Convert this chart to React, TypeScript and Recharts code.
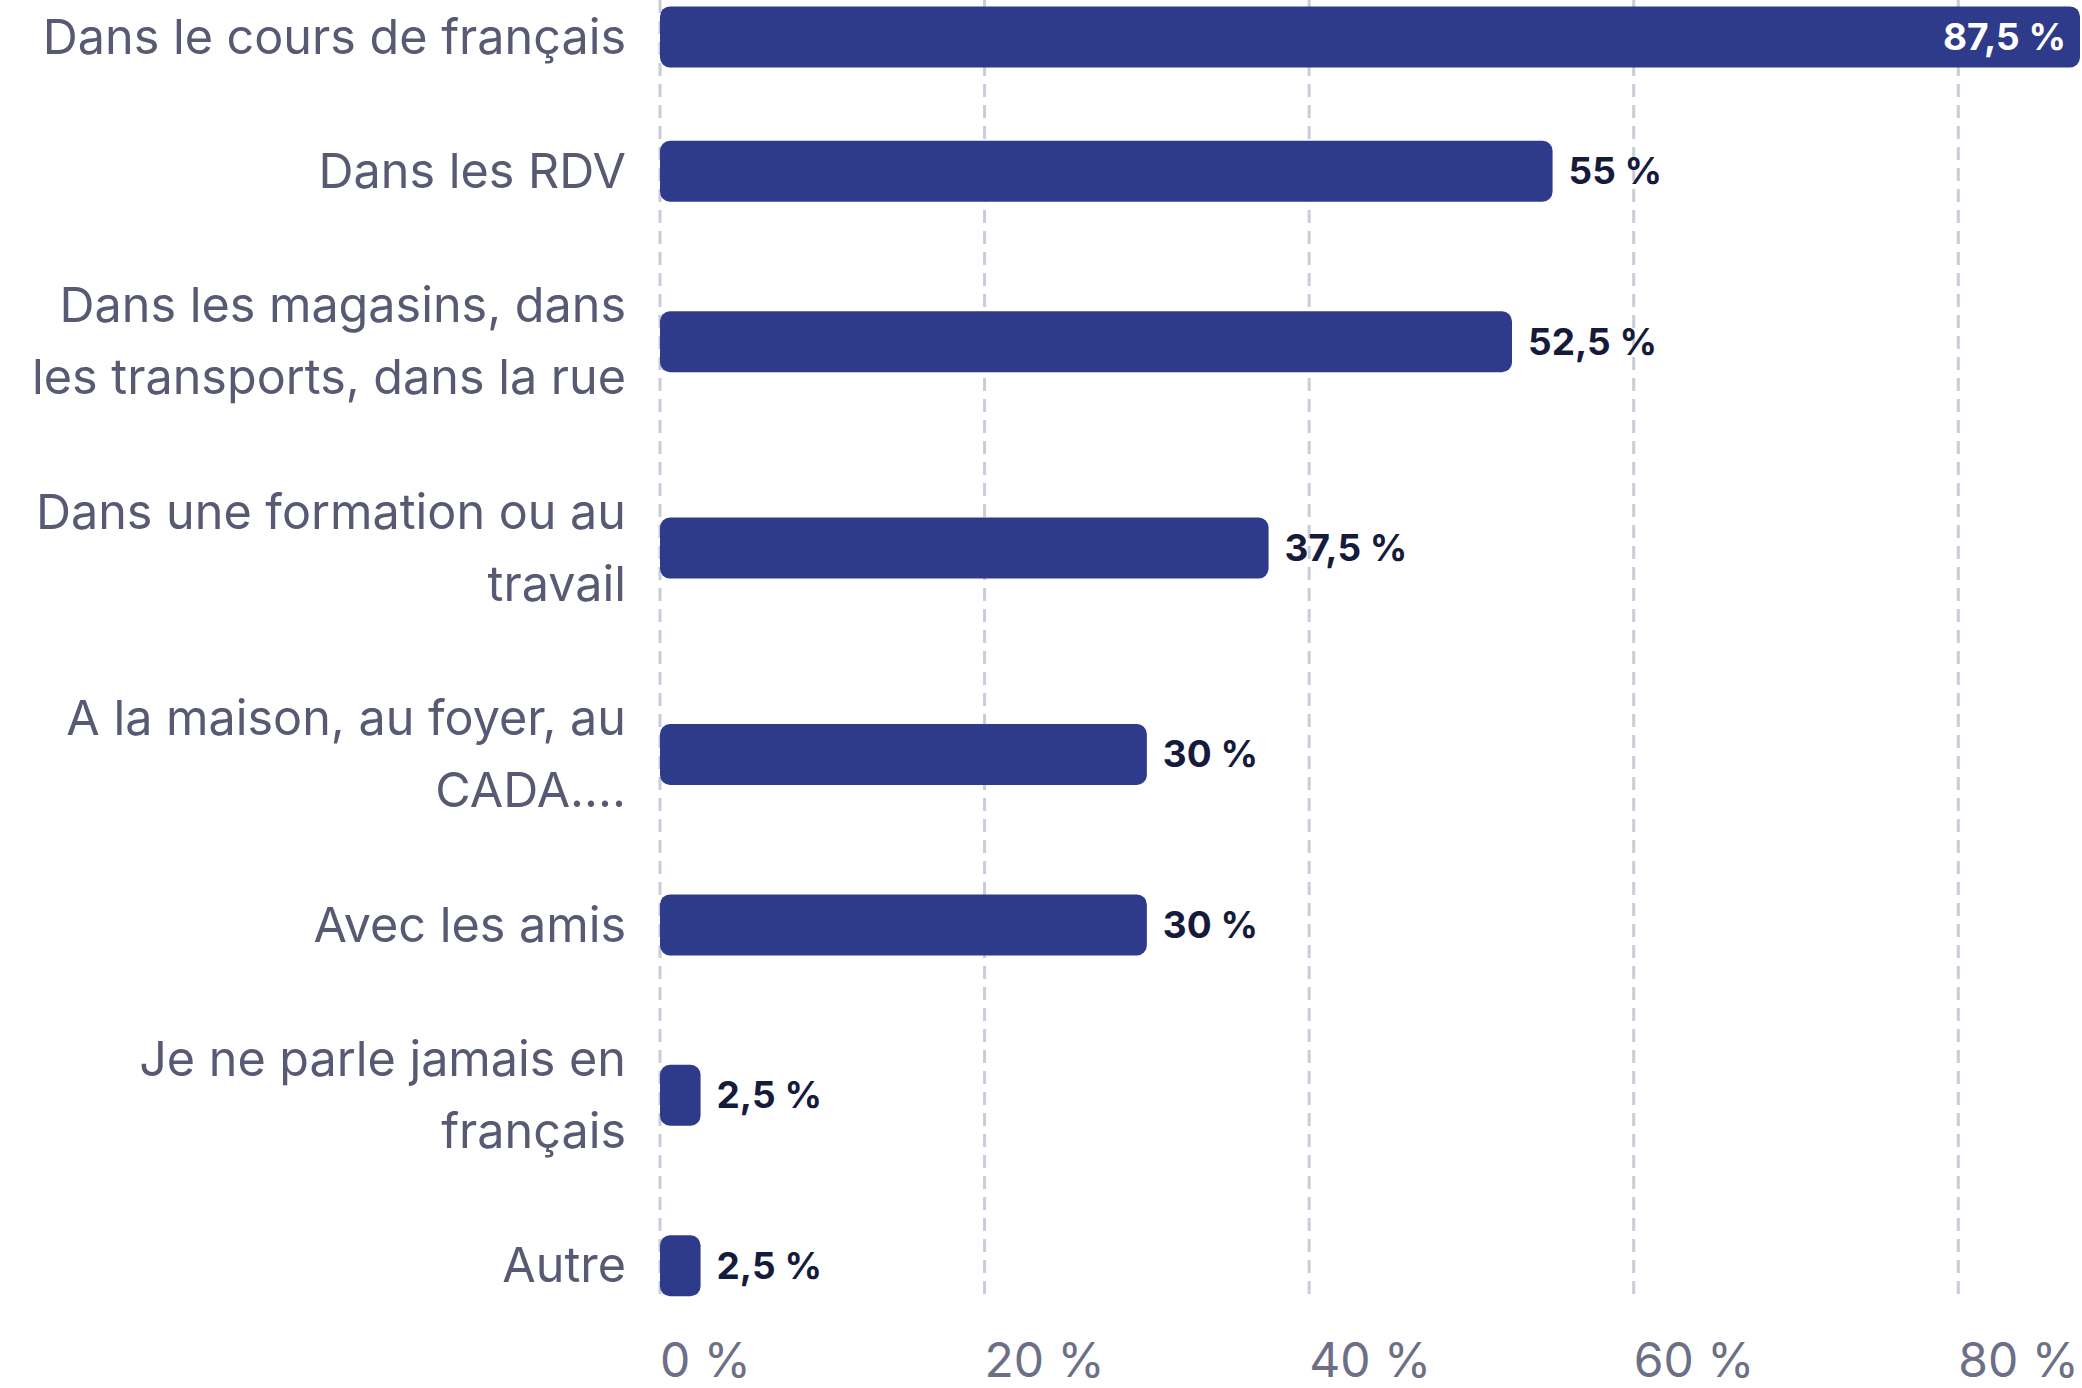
import React from 'react';
import { BarChart, Bar, XAxis, YAxis, CartesianGrid, LabelList } from 'recharts';

// ---- data ----
const categories: string[] = [
  'Dans le cours de français',
  'Dans les RDV',
  'Dans les magasins, dans\nles transports, dans la rue',
  'Dans une formation ou au\ntravail',
  'A la maison, au foyer, au\nCADA....',
  'Avec les amis',
  'Je ne parle jamais en\nfrançais',
  'Autre',
];
const values: number[] = [87.5, 55, 52.5, 37.5, 30, 30, 2.5, 2.5];
const xTicks: number[] = [0, 20, 40, 60, 80];

// ---- style / layout ----
const W = 2082;
const H = 1388;
const FONT = 'Inter, "Noto Sans", sans-serif';
const BAR_COLOR = '#2e3b8b';
const CAT_COLOR = '#575a72';
const TICK_COLOR = '#6c6f86';
const VALUE_COLOR = '#161b3b';
const GRID_COLOR = '#c9ccd9';
const CAT_FONT = 48.5;
const VALUE_FONT = 37;
const TICK_FONT = 48;
const LINE_H = 72; // label line height (row units)
const ROW_PAD = 62.4; // extra height per row (row units)
const CROP = 30.6; // rows cut off at top/bottom of plot

const fmt = (v: number) => String(v).replace('.', ',') + ' %';

// row centres derived from the number of label lines
const rowLines = categories.map((c) => c.split('\n').length);
const rowHeights = rowLines.map((n) => ROW_PAD + LINE_H * n);
const rowCenters: number[] = [];
{
  let acc = 0;
  rowHeights.forEach((h) => {
    rowCenters.push(acc + h / 2);
    acc += h;
  });
}
const totalRows = rowHeights.reduce((a, b) => a + b, 0);

const data = categories.map((name, i) => ({ name, pos: rowCenters[i], value: values[i] }));

const CategoryTick = (props: any) => {
  const { x, y, payload } = props;
  const idx = rowCenters.findIndex((p) => Math.abs(p - payload.value) < 1e-6);
  if (idx < 0) return null;
  const lines = categories[idx].split('\n');
  const n = lines.length;
  return (
    <text x={x} y={y} textAnchor="end" fill={CAT_COLOR} fontSize={CAT_FONT} fontFamily={FONT}>
      {lines.map((l, i) => (
        <tspan key={i} x={x} y={y + (i - (n - 1) / 2) * LINE_H} dy="0.35em">
          {l}
        </tspan>
      ))}
    </text>
  );
};

const ValueTick = (props: any) => {
  const { x, y, payload } = props;
  return (
    <text x={x} y={y} textAnchor="start" fill={TICK_COLOR} fontSize={TICK_FONT} fontFamily={FONT} dy="0.35em">
      {payload.value + ' %'}
    </text>
  );
};

const ValueLabel = (props: any) => {
  const { x, y, width, height, value } = props;
  const inside = value === Math.max(...values);
  const cy = y + height / 2;
  if (inside) {
    return (
      <text x={x + width - 14} y={cy} dy="0.35em" textAnchor="end" fill="#ffffff" fontSize={VALUE_FONT} fontWeight={700} fontFamily={FONT}>
        {fmt(value)}
      </text>
    );
  }
  return (
    <text x={x + width + 16} y={cy} dy="0.35em" textAnchor="start" fill={VALUE_COLOR} fontSize={VALUE_FONT} fontWeight={700} fontFamily={FONT}>
      {fmt(value)}
    </text>
  );
};

export default function App() {
  return (
    <div style={{ position: 'absolute', left: 0, top: 0, width: W, height: H, background: '#ffffff' }}>
      <BarChart
        width={W}
        height={H}
        data={data}
        layout="vertical"
        margin={{ top: 0, right: 2, bottom: 0, left: 0 }}
      >
        <CartesianGrid
          horizontal={false}
          vertical
          syncWithTicks
          stroke={GRID_COLOR}
          strokeWidth={3}
          strokeDasharray="13 8"
        />
        <XAxis
          type="number"
          dataKey="value"
          domain={[0, 'dataMax']}
          ticks={xTicks}
          interval={0}
          axisLine={false}
          tickLine={false}
          tickSize={0}
          tickMargin={58}
          height={86}
          tick={<ValueTick />}
        />
        <YAxis
          type="number"
          dataKey="pos"
          domain={[CROP, totalRows - CROP]}
          ticks={rowCenters}
          interval={0}
          allowDataOverflow
          axisLine={false}
          tickLine={false}
          tickSize={0}
          tickMargin={34}
          width={660}
          tick={<CategoryTick />}
        />
        <Bar dataKey="value" fill={BAR_COLOR} barSize={61} radius={10} isAnimationActive={false}>
          <LabelList dataKey="value" content={<ValueLabel />} />
        </Bar>
      </BarChart>
    </div>
  );
}
